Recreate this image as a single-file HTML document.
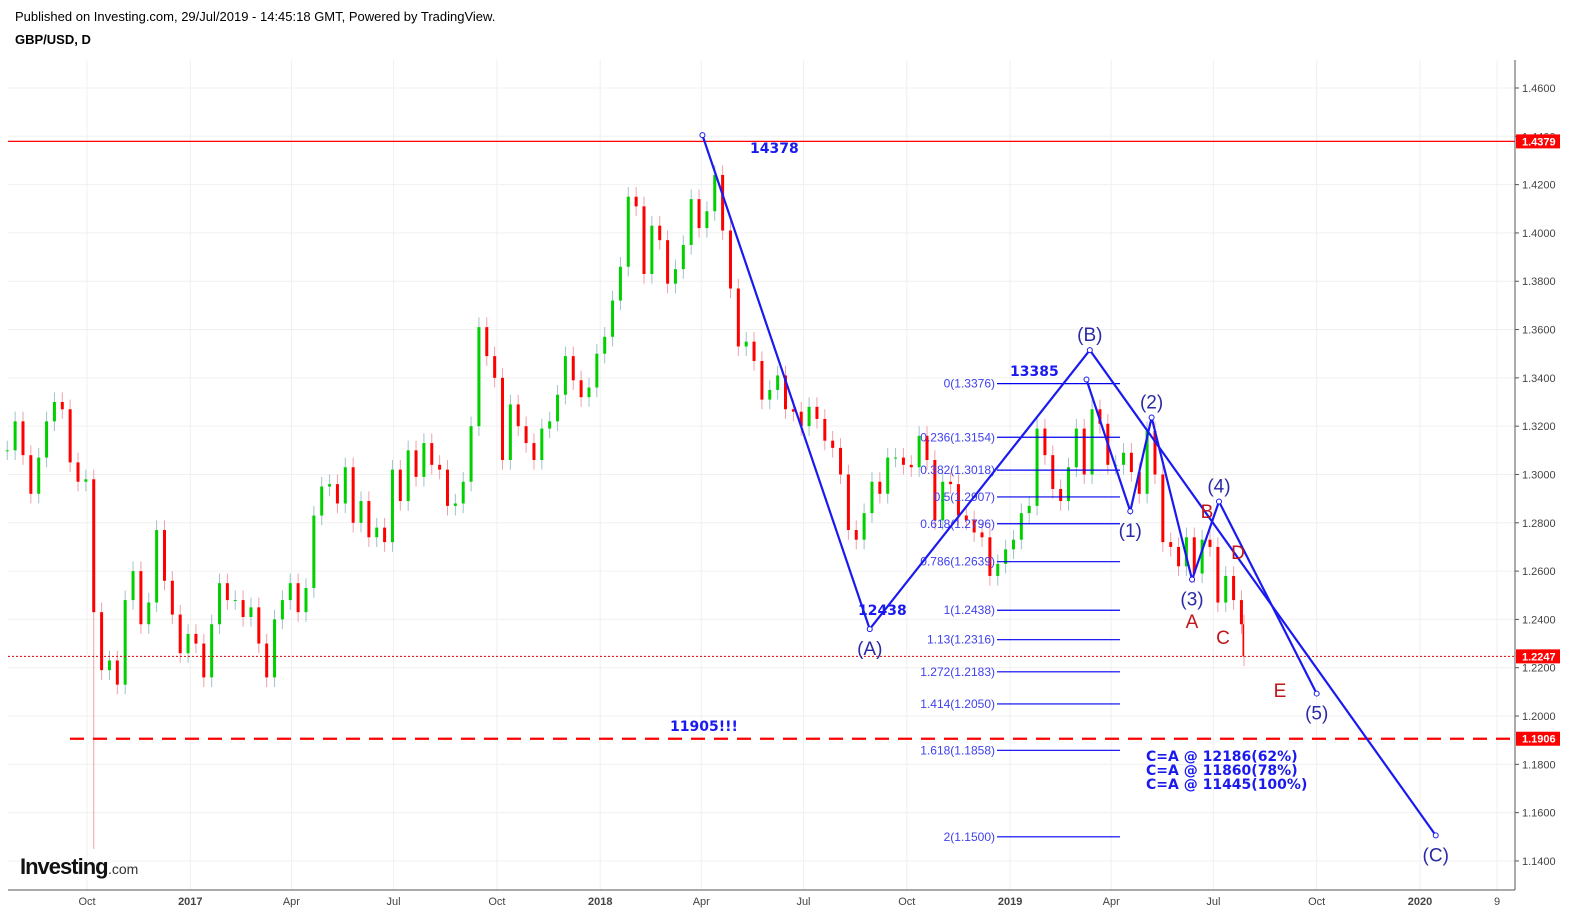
<!DOCTYPE html>
<html><head><meta charset="utf-8">
<style>
body{margin:0;background:#fff;width:1585px;height:924px;overflow:hidden;font-family:"Liberation Sans",Arial,sans-serif}
svg{position:absolute;left:0;top:0}
.hdr{position:absolute;left:15px;font-size:13px;color:#000}
</style></head><body>
<div class="hdr" style="top:9px">Published on Investing.com, 29/Jul/2019 - 14:45:18 GMT, Powered by TradingView.</div>
<div class="hdr" style="top:32px;font-weight:bold">GBP/USD, D</div>
<svg id="chart" width="1585" height="924"></svg>
<script>
const yTicks=[1.14,1.16,1.18,1.20,1.22,1.24,1.26,1.28,1.30,1.32,1.34,1.36,1.38,1.40,1.42,1.44,1.46];
const xTickLabels=["Oct","2017","Apr","Jul","Oct","2018","Apr","Jul","Oct","2019","Apr","Jul","Oct","2020","9"];
const xTickDates=["2016-10-01","2017-01-01","2017-04-01","2017-07-01","2017-10-01","2018-01-01","2018-04-01","2018-07-01","2018-10-01","2019-01-01","2019-04-01","2019-07-01","2019-10-01","2020-01-01","2020-02-09"];
const startDate="2016-07-22";
const closes=[1.310,1.322,1.308,1.292,1.307,1.322,1.330,1.327,1.305,1.297,1.298,1.243,1.219,1.223,1.213,1.248,1.260,1.238,1.247,1.277,1.256,1.242,1.226,1.234,
1.230,1.216,1.238,1.255,1.248,1.248,1.241,1.245,1.230,1.216,1.240,1.248,1.255,1.243,1.253,1.283,1.295,1.296,1.288,1.303,1.280,1.289,1.274,1.278,1.272,1.302,1.289,1.310,1.299,1.313,1.304,1.302,1.287,1.288,1.297,1.320,1.361,1.349,1.340,1.306,1.329,1.320,1.313,1.306,1.319,1.322,1.333,1.349,1.339,1.332,1.336,1.350,
1.357,1.372,1.386,1.415,1.411,1.383,1.403,1.397,1.379,1.385,1.395,1.414,1.402,1.409,1.424,1.401,1.377,1.353,1.355,1.347,1.331,1.335,1.341,1.327,1.326,1.320,1.328,1.323,1.314,1.311,1.300,1.277,1.273,1.284,1.297,1.292,1.307,1.307,1.304,1.303,1.316,1.306,1.281,1.297,1.296,1.283,1.281,1.276,1.274,1.258,1.263,1.269,
1.273,1.284,1.287,1.319,1.308,1.294,1.289,1.303,1.319,1.300,1.327,1.321,1.304,1.304,1.309,1.301,1.292,1.318,1.300,1.272,1.270,1.262,1.274,1.259,1.273,1.270,1.247,1.258,1.248,1.238,1.2247];
const extremeLows=[{i:11,low:1.145}];
const levelsSolid=[1.4379];const levelDotted=[1.2247];const levelDashed=[1.1906];
const fibLevels=[0,0.236,0.382,0.5,0.618,0.786,1,1.13,1.272,1.414,1.618,2];
const fibPrices=[1.3376,1.3154,1.3018,1.2907,1.2796,1.2639,1.2438,1.2316,1.2183,1.2050,1.1858,1.1500];
const bigWaveDates=["2018-04-02","2018-08-29","2019-03-13","2020-01-15"];
const bigWavePrices=[1.4405,1.2360,1.3515,1.1506];
const bigWaveNames=["","(A)","(B)","(C)"];
const smallWaveDates=["2019-03-10","2019-04-18","2019-05-07","2019-06-12","2019-07-06","2019-10-01"];
const smallWavePrices=[1.3393,1.2848,1.3236,1.2565,1.2888,1.2093];
const smallWaveNames=["","(1)","(2)","(3)","(4)","(5)"];

const svg=document.getElementById('chart');const NS="http://www.w3.org/2000/svg";
const t0=Date.UTC(2016,9,1);
function dx(d){const p=d.split('-');return 87+(Date.UTC(+p[0],p[1]-1,+p[2])-t0)/864e5*1.123;}
function yv(v){return 88+(1.46-v)/0.02*48.31;}
function el(tag,a,parent){const e=document.createElementNS(NS,tag);for(const k in a)e.setAttribute(k,a[k]);(parent||svg).appendChild(e);return e;}
function tx(x,y,s,a){const e=el('text',Object.assign({x:x,y:y},a));e.textContent=s;return e;}
yTicks.forEach(v=>{const l=el('line',{x1:8,x2:1515,y1:yv(v),y2:yv(v),stroke:'#f0f0f0'});
});
xTickDates.forEach((d,i)=>{const x=i==xTickDates.length-1?1497:dx(d);const l=el('line',{x1:x,x2:x,y1:60,y2:890,stroke:'#f0f0f0'});

const t=tx(x,905,xTickLabels[i],{'font-size':11,'text-anchor':'middle',fill:'#444','font-weight':/^20/.test(xTickLabels[i])?'bold':'normal'});
});
const sd=startDate.split('-');const s0=Date.UTC(+sd[0],sd[1]-1,+sd[2]);
closes.forEach((c,i)=>{const o=i?closes[i-1]:c;let x=87+(s0+i*7*864e5-t0)/864e5*1.123;if(i==closes.length-1)x=1244;
const up=c>=o;let hi=Math.max(o,c)+0.004,lo=Math.min(o,c)-0.004;extremeLows.forEach(e=>{if(e.i==i)lo=e.low;});
const g=el('g',{});
el('line',{x1:x,x2:x,y1:yv(hi),y2:yv(lo),stroke:up?'#9fc3c9':'#f0a0aa','stroke-width':1},g);
const y1=yv(Math.max(o,c)),y2=yv(Math.min(o,c));
el('rect',{x:x-1.5,y:y1,width:i==closes.length-1?1.5:3,height:Math.max(1,y2-y1),fill:up?'#00d000':'#ff0000'},g);});
levelsSolid.forEach(v=>{const l=el('line',{x1:8,x2:1515,y1:yv(v),y2:yv(v),stroke:'#ff0000','stroke-width':1.3});});
levelDotted.forEach(v=>{const l=el('line',{x1:8,x2:1515,y1:yv(v),y2:yv(v),stroke:'#e00000','stroke-dasharray':'2,2'});});
levelDashed.forEach(v=>{const l=el('line',{x1:70,x2:1515,y1:yv(v),y2:yv(v),stroke:'#ff0000','stroke-width':2.2,'stroke-dasharray':'14,9'});});
fibPrices.forEach((p,i)=>{const y=yv(p);const l=el('line',{x1:997,x2:1120,y1:y,y2:y,stroke:'#0000ee','stroke-width':1.2});

const t=tx(995,y+4,fibLevels[i]+'('+p.toFixed(4)+')',{'font-size':12,'text-anchor':'end',fill:'#4040ee'});
});
function wave(dates,prices,names,nm,labelBelow){const pts=dates.map((d,i)=>[dx(d),yv(prices[i])]);
const pl=el('polyline',{points:pts.map(p=>p.join(',')).join(' '),fill:'none',stroke:'#1a1af0','stroke-width':2.2});

pts.forEach((p,i)=>{const c=el('circle',{cx:p[0],cy:p[1],r:2.5,fill:'#fff',stroke:'#1a1af0'});
if(names[i]){const below=labelBelow[i];const t=tx(p[0],below?p[1]+26:p[1]-9,names[i],{'font-size':19,'text-anchor':'middle',fill:'#2a2aa8'});
}});}
wave(bigWaveDates,bigWavePrices,bigWaveNames,'big-wave',[0,1,0,1]);
wave(smallWaveDates,smallWavePrices,smallWaveNames,'small-wave',[0,1,0,1,0,1]);
[["14378",750,153],["12438",858,615],["13385",1010,376],["11905!!!",670,731],["C=A @ 12186(62%)",1146,761],["C=A @ 11860(78%)",1146,775],["C=A @ 11445(100%)",1146,789]].forEach(a=>{
const t=tx(a[1],a[2],a[0],{'font-size':14,'font-weight':'bold','font-family':'DejaVu Sans, sans-serif',fill:'#1a1af0'});
});
[["A",1192,628],["B",1207,518],["C",1223,644],["D",1238,559],["E",1280,697]].forEach(a=>{
const t=tx(a[1],a[2],a[0],{'font-size':19,'text-anchor':'middle',fill:'#c0161b'});});
const ax=el('line',{x1:1515,x2:1515,y1:60,y2:890,stroke:'#555'});
const bx=el('line',{x1:8,x2:1515,y1:890,y2:890,stroke:'#555'});
yTicks.forEach(v=>{const y=yv(v);el('line',{x1:1515,x2:1519,y1:y,y2:y,stroke:'#555'});
const t=tx(1522,y+4,v.toFixed(4),{'font-size':11,fill:'#444'});});
levelsSolid.concat(levelDotted,levelDashed).forEach(v=>{const y=yv(v);const r=el('rect',{x:1516,y:y-7,width:44,height:14,fill:'#ff0000'});

const t=tx(1522,y+4,v.toFixed(4),{'font-size':11,'font-weight':'bold',fill:'#fff'});});
const lg=tx(20,874,"Investing",{'font-size':22,'font-weight':'bold',fill:'#111','letter-spacing':'-1'});
const lg2=tx(108,874,".com",{'font-size':14,fill:'#333'});
</script>
</body></html>
